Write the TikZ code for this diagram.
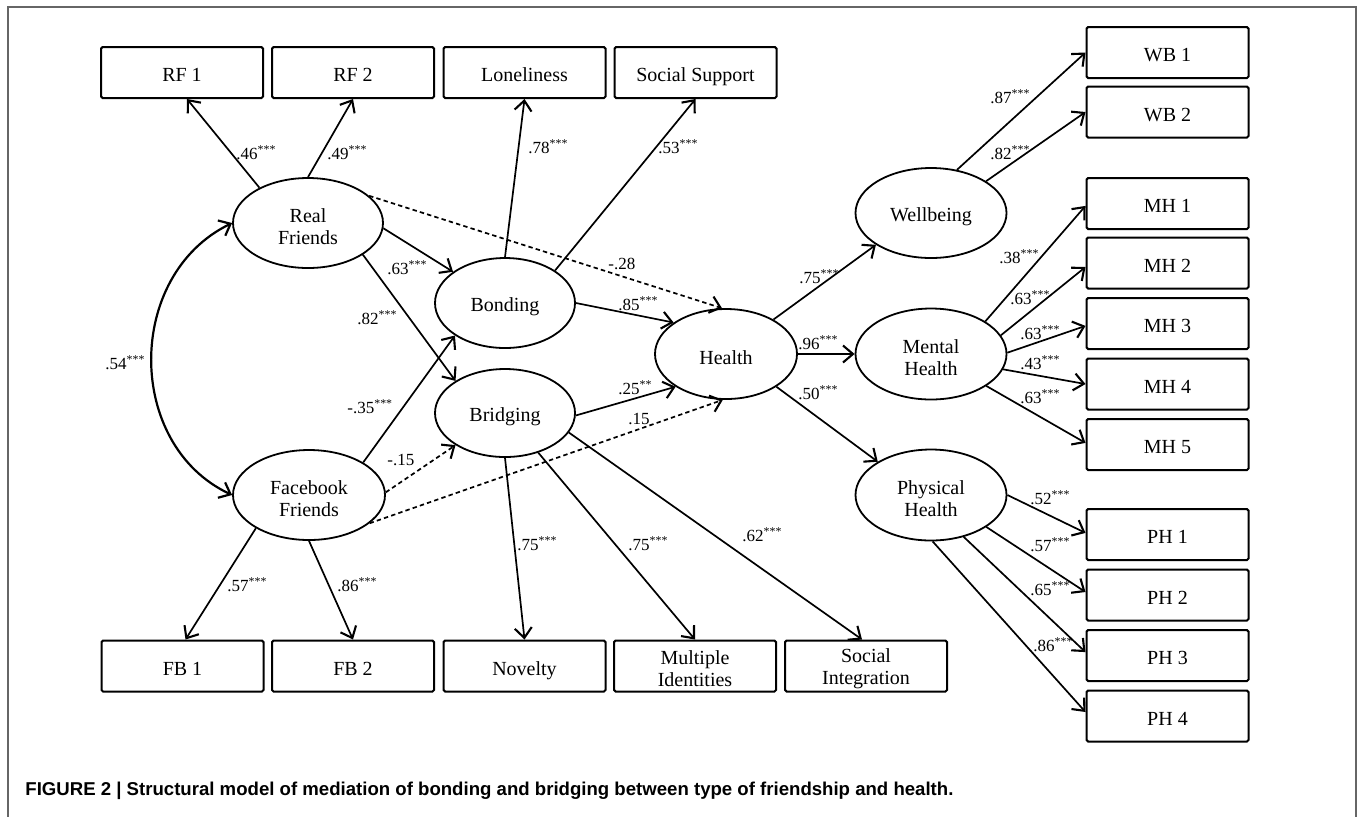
\documentclass[tikz,border=0pt]{standalone}
\usepackage{fontspec}
\setmainfont{Liberation Serif}
\newfontfamily\capfont{Liberation Sans}
\usetikzlibrary{arrows.meta,shapes.geometric}
\newcommand{\tstars}{\textsuperscript{***}}
\newcommand{\dstars}{\textsuperscript{**}}
\begin{document}
\begin{tikzpicture}[x=0.5pt,y=-0.5pt,
  box/.style={draw, line width=1pt, minimum width=81pt, minimum height=25.5pt, inner sep=0pt, align=center, font=\fontsize{10}{11}\selectfont, rounded corners=0.8pt, text height=20.6pt},
  sbox/.style={box, text height=9.5pt, text depth=0.4pt},
  lat/.style={draw, ellipse, line width=0.9pt, inner sep=0pt, align=center, font=\fontsize{10}{11}\selectfont, minimum height=45pt, text height=10.3pt},
  lat2/.style={lat, text height=21.2pt},
  arr/.style={line width=0.85pt, -{Straight Barb[length=5pt,width=8.5pt,line width=1.05pt]}},
  darr/.style={arr, dash pattern=on 2.2pt off 1.6pt},
  corr/.style={line width=1.1pt, {Straight Barb[length=5pt,width=8.5pt,line width=1.1pt]}-{Straight Barb[length=5pt,width=8.5pt,line width=1.1pt]}},
  lab/.style={anchor=base west, inner sep=0pt, font=\fontsize{8.5}{9}\selectfont},
  frame/.style={draw=black!60, line width=0.8pt}
]
\useasboundingbox[fill=white] (0,0) rectangle (1358,816);
\draw[frame] (8,830) -- (8,7) -- (1356,7) -- (1356,830);

% top boxes
\node[sbox] (rf1) at (182,72.5) {RF 1};
\node[sbox] (rf2) at (353,72.5) {RF 2};
\node[sbox] (lone) at (524.5,72.5) {Loneliness};
\node[sbox] (ss) at (695.5,72.5) {Social Support};
% bottom boxes
\node[sbox] (fb1) at (182.5,666) {FB 1};
\node[sbox] (fb2) at (353,666) {FB 2};
\node[sbox] (nov) at (524.5,666) {Novelty};
\node[box] (mi) at (695,666) {Multiple\\Identities};
\node[box] (si) at (866,666) {Social\\Integration};
% right boxes
\node[sbox] (wb1) at (1167.5,52.5) {WB 1};
\node[sbox] (wb2) at (1167.5,112) {WB 2};
\node[sbox] (mh1) at (1167.5,203.5) {MH 1};
\node[sbox] (mh2) at (1167.5,263) {MH 2};
\node[sbox] (mh3) at (1167.5,323.5) {MH 3};
\node[sbox] (mh4) at (1167.5,384) {MH 4};
\node[sbox] (mh5) at (1167.5,444.5) {MH 5};
\node[sbox] (ph1) at (1167.5,534.5) {PH 1};
\node[sbox] (ph2) at (1167.5,595) {PH 2};
\node[sbox] (ph3) at (1167.5,655.5) {PH 3};
\node[sbox] (ph4) at (1167.5,716) {PH 4};

% latent variables
\node[lat2, minimum width=75pt] (rf) at (308,223) {Real\\Friends};
\node[lat2, minimum width=76pt] (fb) at (309,495) {Facebook\\Friends};
\node[lat, minimum width=70pt] (bond) at (505,303) {Bonding};
\node[lat, minimum width=70pt, minimum height=44pt] (bridg) at (505,413) {Bridging};
\node[lat, minimum width=71pt] (health) at (726,354) {Health};
\node[lat, minimum width=75.5pt] (wb) at (931,213) {Wellbeing};
\node[lat2, minimum width=75.5pt, minimum height=45.5pt] (mh) at (931,354) {Mental\\Health};
\node[lat2, minimum width=75.5pt, minimum height=45.5pt] (ph) at (931,495) {Physical\\Health};

% connectors
\draw[arr] (rf.144) -- ([xshift=2.5pt]rf1.south);
\draw[arr] (rf.90) -- (rf2.south);
\draw[arr] (rf.-4) -- (bond.149);
\draw[arr] (rf.-30) -- (bridg.147);
\draw[darr] (rf.24) -- (health.95);
\draw[arr] (bond.90) -- (lone.south);
\draw[arr] (bond.33) -- (ss.south);
\draw[arr] (bond.0) -- (health.149);
\draw[arr] (bridg.-2) -- (health.213);
\draw[arr] (fb.31) -- (bond.213);
\draw[darr] (fb.2) -- (bridg.213);
\draw[darr] (fb.-25) -- (health.266);
\draw[arr] (fb.212) -- ([xshift=1.5pt]fb1.north);
\draw[arr] (fb.270) -- (fb2.north);
\draw[arr] (bridg.270) -- (nov.north);
\draw[arr] (bridg.-50) -- (mi.north);
\draw[arr] (bridg.-17) -- ([xshift=-2pt]si.north);
\draw[arr] (health.36) -- (wb.210);
\draw[arr] (health.0) -- (mh.180);
\draw[arr] (health.-33) -- (ph.148);
\draw[arr] (wb.59) -- (wb1.west);
\draw[arr] (wb.30) -- (wb2.west);
\draw[arr] (mh.31) -- ([yshift=-1.2pt]mh1.west);
\draw[arr] (mh.15) -- ([yshift=-2pt]mh2.west);
\draw[arr] (mh.1) -- ([yshift=-1.2pt]mh3.west);
\draw[arr] (mh.-12.5) -- (mh4.west);
\draw[arr] (mh.-30) -- ([yshift=0.8pt]mh5.west);
\draw[arr] (ph.0) -- ([yshift=0.8pt]ph1.west);
\draw[arr] (ph.-30) -- ([yshift=1.5pt]ph2.west);
\draw[arr] (ph.-52) -- ([yshift=1.7pt]ph3.west);
\draw[arr] (ph.-88) -- ([yshift=2pt]ph4.west);
\draw[corr] (rf.west) .. controls (125,275) and (125,445) .. (fb.west);

% coefficient labels
\node[lab] (l1) at (236,159) {.46\tstars};
\node[lab] (l2) at (327,159) {.49\tstars};
\node[lab] (l3) at (387,274) {.63\tstars};
\node[lab] (l4) at (357,324) {.82\tstars};
\node[lab] (l5) at (608,269) {-.28};
\node[lab] (l6) at (528,153) {.78\tstars};
\node[lab] (l7) at (658,153) {.53\tstars};
\node[lab] (l8) at (618,310) {.85\tstars};
\node[lab] (l9) at (618,394) {.25\dstars};
\node[lab] (l10) at (628,424) {.15};
\node[lab] (l11) at (347,413) {-.35\tstars};
\node[lab] (l12) at (387,465) {-.15};
\node[lab] (l13) at (105,369) {.54\tstars};
\node[lab] (l14) at (227,591) {.57\tstars};
\node[lab] (l15) at (337,591) {.86\tstars};
\node[lab] (l16) at (517,550) {.75\tstars};
\node[lab] (l17) at (628,550) {.75\tstars};
\node[lab] (l18) at (742,541) {.62\tstars};
\node[lab] (l19) at (799,283) {.75\tstars};
\node[lab] (l20) at (798,349) {.96\tstars};
\node[lab] (l21) at (798,399) {.50\tstars};
\node[lab] (l22) at (990,103) {.87\tstars};
\node[lab] (l23) at (990,159) {.82\tstars};
\node[lab] (l24) at (999,263) {.38\tstars};
\node[lab] (l25) at (1010,304) {.63\tstars};
\node[lab] (l26) at (1020,339) {.63\tstars};
\node[lab] (l27) at (1020,369) {.43\tstars};
\node[lab] (l28) at (1020,403) {.63\tstars};
\node[lab] (l29) at (1030,504) {.52\tstars};
\node[lab] (l30) at (1030,551) {.57\tstars};
\node[lab] (l31) at (1030,595) {.65\tstars};
\node[lab] (l32) at (1033,651) {.86\tstars};

% caption
\node[anchor=base west, inner sep=0pt, font=\capfont\bfseries\fontsize{9.3}{10}\selectfont] (cap) at (25,795) {FIGURE 2 | Structural model of mediation of bonding and bridging between type of friendship and health.};
\end{tikzpicture}
\end{document}
